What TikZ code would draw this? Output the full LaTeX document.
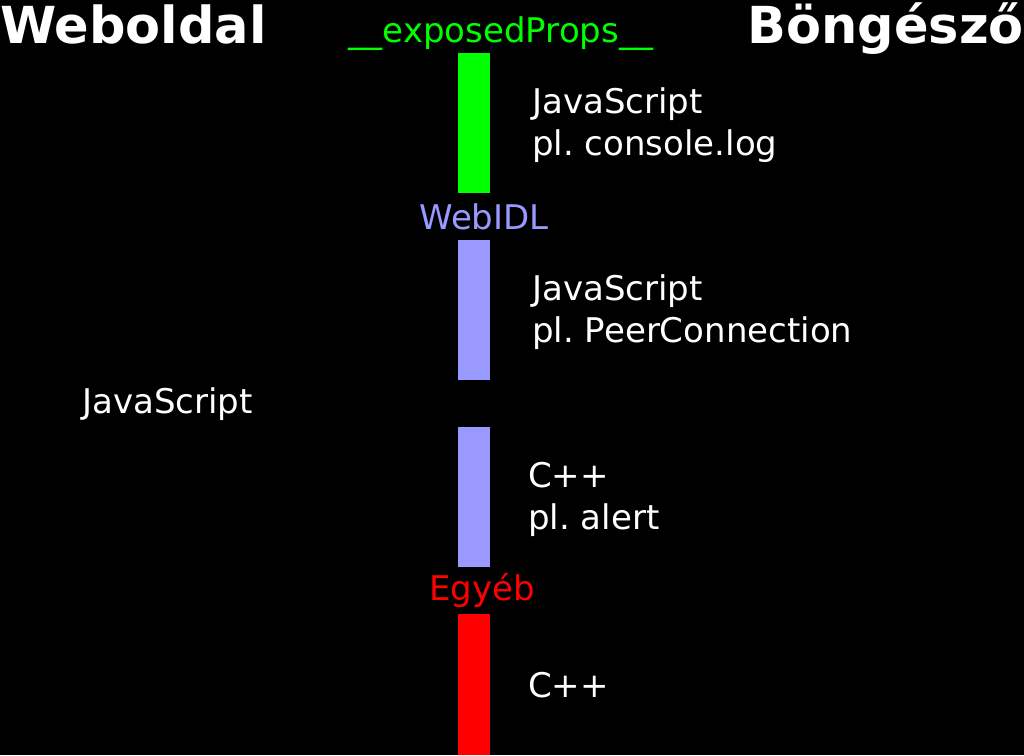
\documentclass[tikz,border=0pt]{standalone}
\usepackage{fontspec}
\setmainfont{DejaVu Sans}
\frenchspacing
\definecolor{idlblue}{RGB}{153,153,255}
\definecolor{xgreen}{RGB}{0,255,0}
\definecolor{xred}{RGB}{255,0,0}
\begin{document}
\begin{tikzpicture}[x=1pt,y=-1pt,
  bar/.style={fill=#1,draw=none,minimum width=32pt,inner sep=0pt,anchor=north west},
  title/.style={text=white,font=\fontsize{51}{60}\selectfont\bfseries,inner sep=0pt},
  lbl/.style={text=white,font=\fontsize{34}{42}\selectfont,inner sep=0pt,anchor=base west,align=left},
  cat/.style={text=#1,font=\fontsize{34}{42}\selectfont,inner sep=0pt,anchor=base}]
\fill[black] (0,0) rectangle (1024,755);
\useasboundingbox (0,0) rectangle (1024,755);
\node[title,anchor=base west] (web) at (0,43) {Weboldal};
\node[title,anchor=base east] (bro) at (1024,43) {Böngésző};
\node[cat=xgreen] (exp) at (501,42) {\_\_exposedProps\_\_};
\node[bar=xgreen,minimum height=140pt] (g) at (458,53) {};
\node[lbl] (t1) at (532,155) {JavaScript\\pl. console.log};
\node[cat=idlblue] (idl) at (484,229) {WebIDL};
\node[bar=idlblue,minimum height=140pt] (b1) at (458,240) {};
\node[lbl] (t2) at (532,342) {JavaScript\\pl. PeerConnection};
\node[lbl] (js) at (82,413) {JavaScript};
\node[bar=idlblue,minimum height=140pt] (b2) at (458,427) {};
\node[lbl] (t3) at (528,529) {C++\\pl. alert};
\node[cat=xred] (egy) at (482,600) {Egyéb};
\node[bar=xred,minimum height=141pt] (r) at (458,614) {};
\node[lbl] (t4) at (528,697) {C++};
\end{tikzpicture}
\end{document}
